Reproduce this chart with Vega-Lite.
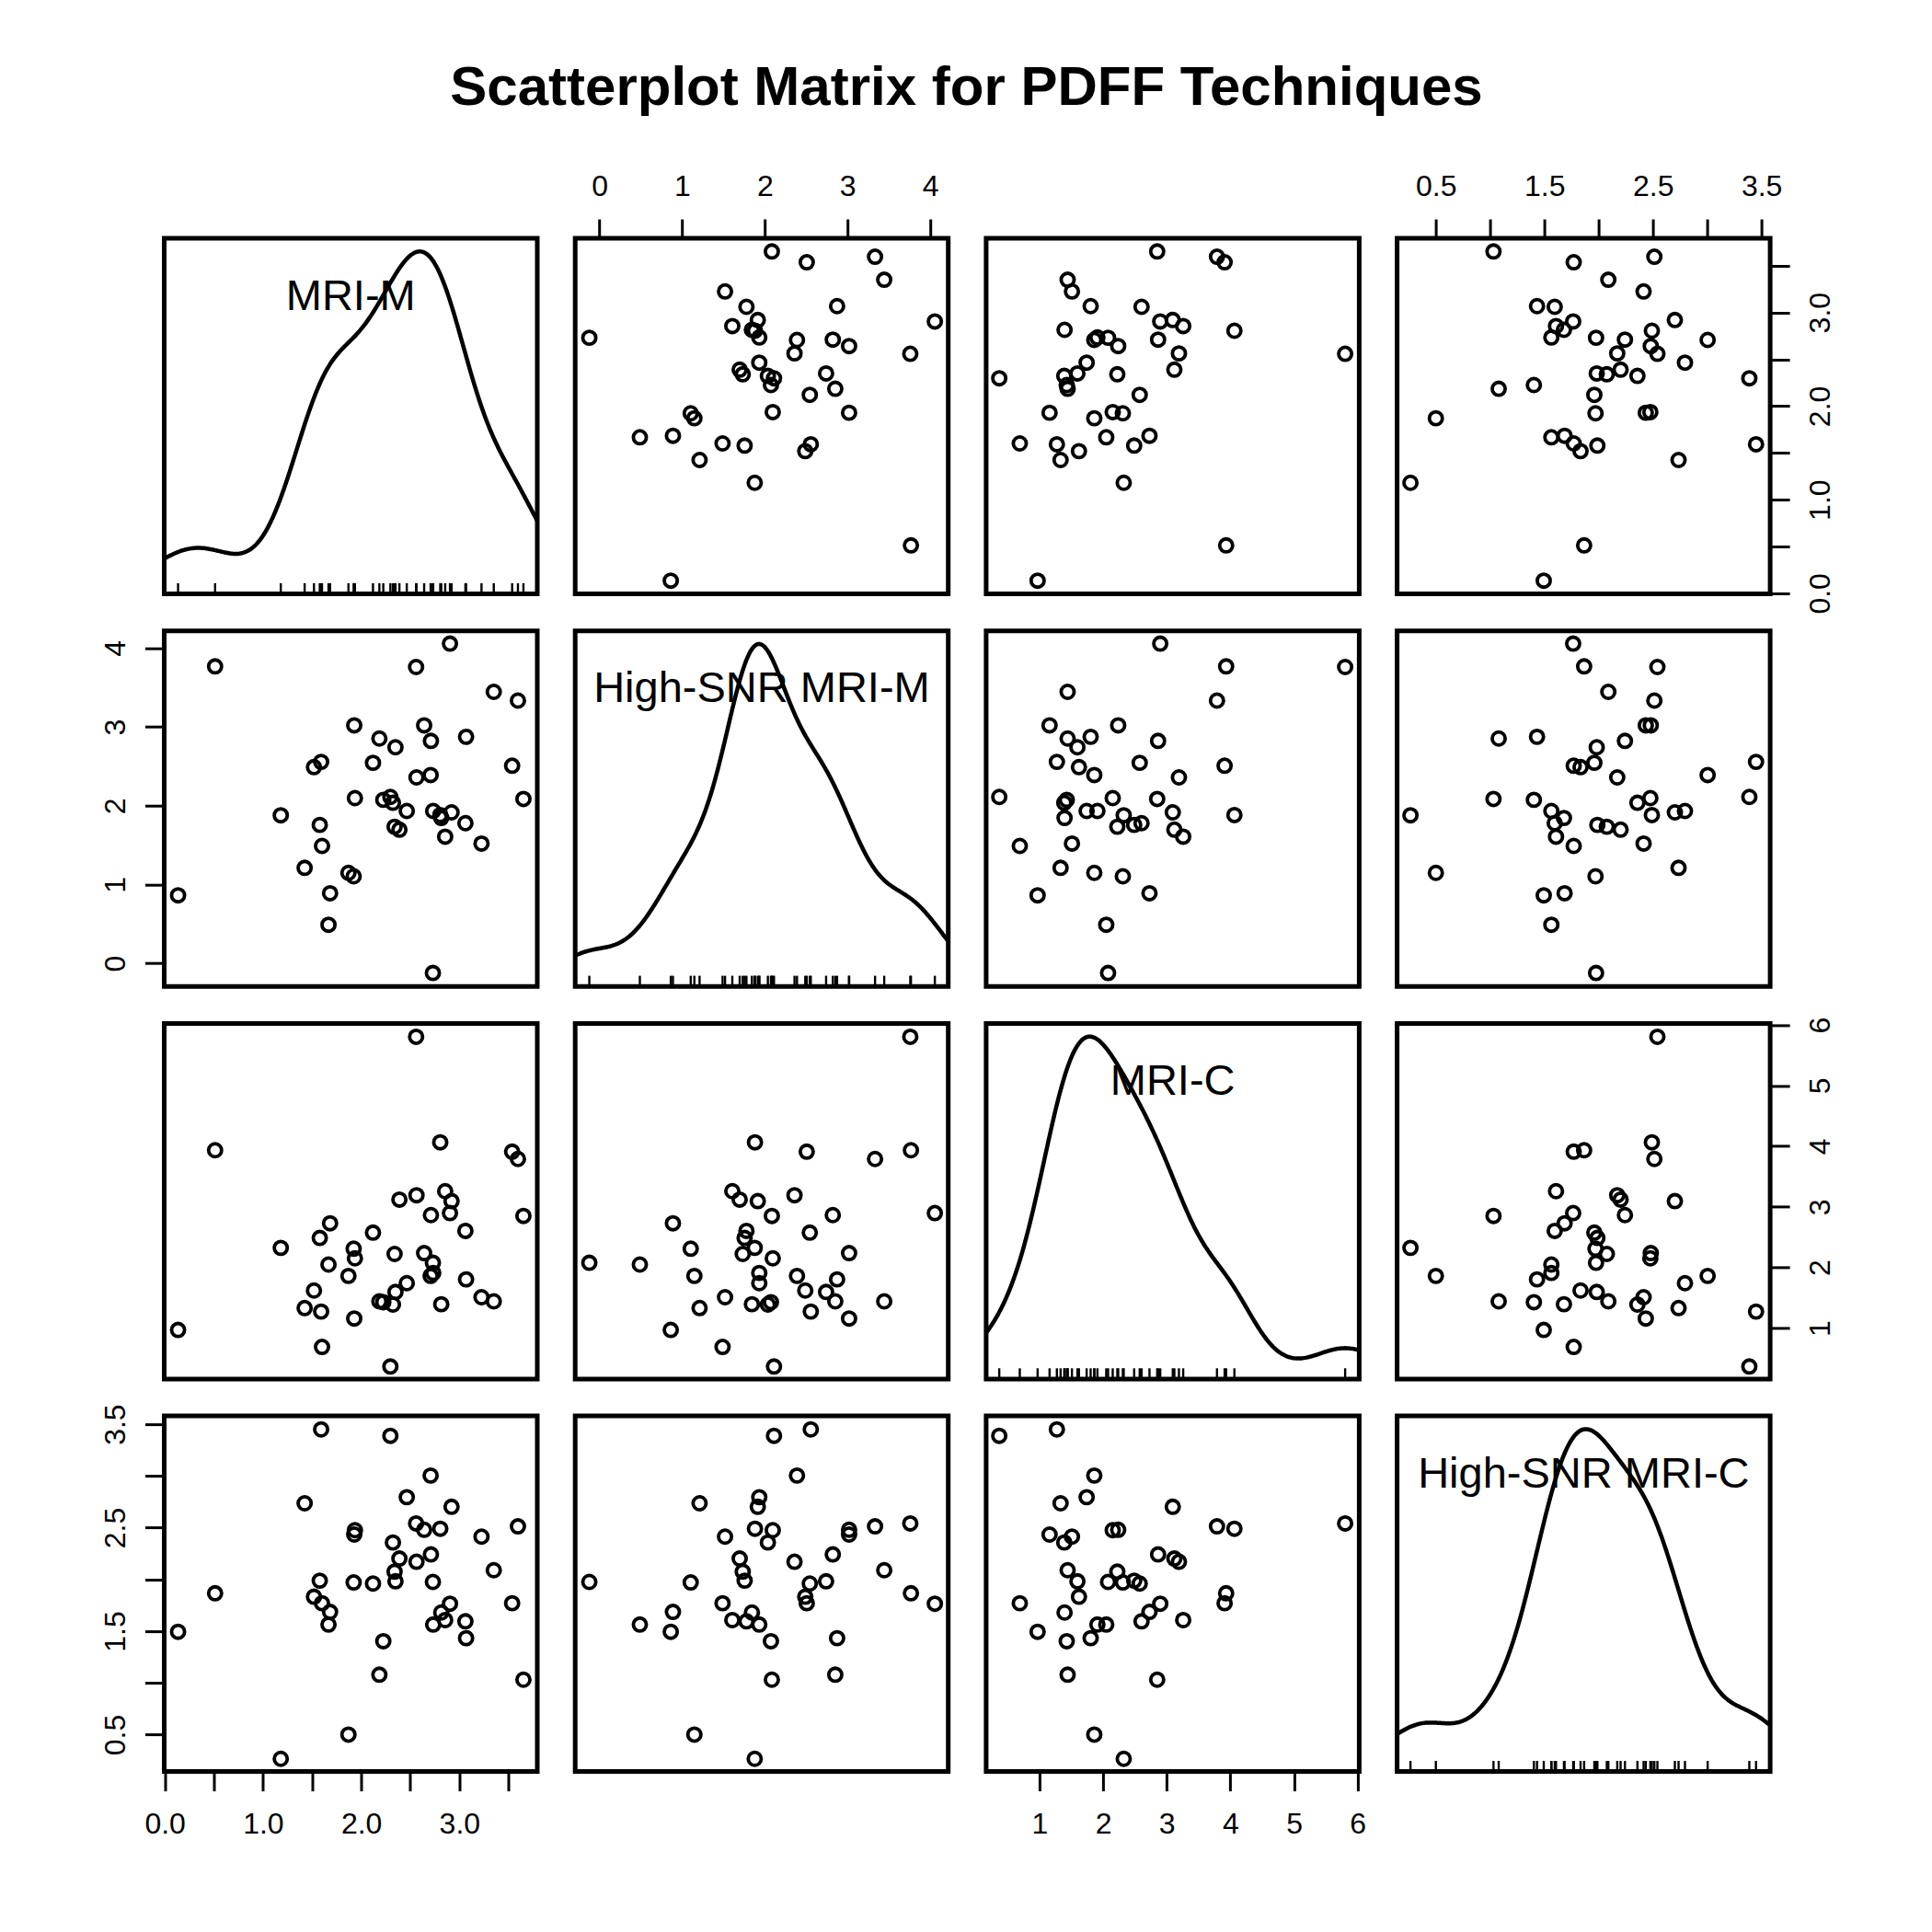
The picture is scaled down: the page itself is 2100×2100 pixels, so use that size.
{
"$schema": "https://vega.github.io/schema/vega-lite/v6.json",
"background": "white",
"padding": {"left": 106.5, "top": 65, "right": 5, "bottom": 5},
"title": {"text": "Scatterplot Matrix for PDFF Techniques", "font": "Liberation Sans", "fontSize": 60, "fontWeight": "bold", "color": "black", "anchor": "middle", "frame": "group", "baseline": "top", "offset": 57, "dx": 872},
"datasets": {"pdff": [
{"MRI_M": 3.652, "HS_M": 2.085, "MRI_C": 2.849, "HS_C": 1.031},
{"MRI_M": 3.596, "HS_M": 3.333, "MRI_C": 3.789, "HS_C": 2.513},
{"MRI_M": 3.537, "HS_M": 2.507, "MRI_C": 3.909, "HS_C": 1.770},
{"MRI_M": 3.350, "HS_M": 3.444, "MRI_C": 1.441, "HS_C": 2.089},
{"MRI_M": 3.225, "HS_M": 1.519, "MRI_C": 1.509, "HS_C": 2.414},
{"MRI_M": 3.068, "HS_M": 2.874, "MRI_C": 1.803, "HS_C": 1.432},
{"MRI_M": 3.061, "HS_M": 1.778, "MRI_C": 2.603, "HS_C": 1.595},
{"MRI_M": 2.904, "HS_M": 4.056, "MRI_C": 2.897, "HS_C": 1.765},
{"MRI_M": 2.920, "HS_M": 1.915, "MRI_C": 3.094, "HS_C": 2.702},
{"MRI_M": 2.855, "HS_M": 1.607, "MRI_C": 3.258, "HS_C": 1.607},
{"MRI_M": 2.730, "HS_M": -0.122, "MRI_C": 2.077, "HS_C": 1.976},
{"MRI_M": 2.710, "HS_M": 2.822, "MRI_C": 2.863, "HS_C": 2.242},
{"MRI_M": 2.707, "HS_M": 2.389, "MRI_C": 1.860, "HS_C": 3.004},
{"MRI_M": 2.815, "HS_M": 1.844, "MRI_C": 1.393, "HS_C": 1.680},
{"MRI_M": 2.805, "HS_M": 1.881, "MRI_C": 4.063, "HS_C": 2.490},
{"MRI_M": 2.733, "HS_M": 1.933, "MRI_C": 1.909, "HS_C": 1.564},
{"MRI_M": 2.641, "HS_M": 3.019, "MRI_C": 2.236, "HS_C": 2.480},
{"MRI_M": 2.559, "HS_M": 3.759, "MRI_C": 5.804, "HS_C": 2.541},
{"MRI_M": 2.563, "HS_M": 2.359, "MRI_C": 3.191, "HS_C": 2.171},
{"MRI_M": 2.464, "HS_M": 1.933, "MRI_C": 1.740, "HS_C": 2.795},
{"MRI_M": 2.389, "HS_M": 1.696, "MRI_C": 3.119, "HS_C": 2.202},
{"MRI_M": 2.349, "HS_M": 2.741, "MRI_C": 1.595, "HS_C": 1.982},
{"MRI_M": 2.340, "HS_M": 1.733, "MRI_C": 2.222, "HS_C": 2.075},
{"MRI_M": 2.323, "HS_M": 2.037, "MRI_C": 1.388, "HS_C": 2.357},
{"MRI_M": 2.297, "HS_M": 2.111, "MRI_C": 0.366, "HS_C": 3.388},
{"MRI_M": 2.225, "HS_M": 2.074, "MRI_C": 1.427, "HS_C": 1.403},
{"MRI_M": 2.185, "HS_M": 2.852, "MRI_C": 1.441, "HS_C": 1.079},
{"MRI_M": 2.120, "HS_M": 2.544, "MRI_C": 2.574, "HS_C": 1.960},
{"MRI_M": 1.936, "HS_M": 2.096, "MRI_C": 2.150, "HS_C": 2.476},
{"MRI_M": 1.929, "HS_M": 3.019, "MRI_C": 1.157, "HS_C": 2.434},
{"MRI_M": 1.923, "HS_M": 1.104, "MRI_C": 2.309, "HS_C": 1.971},
{"MRI_M": 1.870, "HS_M": 1.148, "MRI_C": 1.860, "HS_C": 0.500},
{"MRI_M": 1.683, "HS_M": 0.889, "MRI_C": 2.728, "HS_C": 1.686},
{"MRI_M": 1.667, "HS_M": 0.489, "MRI_C": 2.048, "HS_C": 1.564},
{"MRI_M": 1.601, "HS_M": 1.489, "MRI_C": 0.689, "HS_C": 1.770},
{"MRI_M": 1.592, "HS_M": 2.556, "MRI_C": 1.272, "HS_C": 3.450},
{"MRI_M": 1.578, "HS_M": 1.756, "MRI_C": 2.487, "HS_C": 1.988},
{"MRI_M": 1.519, "HS_M": 2.489, "MRI_C": 1.619, "HS_C": 1.833},
{"MRI_M": 1.424, "HS_M": 1.211, "MRI_C": 1.330, "HS_C": 2.736},
{"MRI_M": 1.181, "HS_M": 1.878, "MRI_C": 2.323, "HS_C": 0.266},
{"MRI_M": 0.512, "HS_M": 3.767, "MRI_C": 3.933, "HS_C": 1.866},
{"MRI_M": 0.135, "HS_M": 0.863, "MRI_C": 0.969, "HS_C": 1.494}
]},
"columns": 4,
"bounds": "flush",
"spacing": {"row": 39.7, "column": 40.7},
"resolve": {"scale": {"x": "independent", "y": "independent"}},
"concat": [
{"width": 405.5, "height": 386.5, "layer": [
 {"data": {"name": "pdff"}, "transform": [{"density": "MRI_M", "bandwidth": 0.2955, "extent": [-0.752, 4.539], "steps": 400, "as": ["value", "density"]}],
  "mark": {"type": "line", "color": "black", "strokeWidth": 4.5, "clip": true},
  "encoding": {"x": {"field": "value", "type": "quantitative", "scale": {"domain": [-0.006, 3.793], "nice": false, "zero": false}, "axis": null},
   "y": {"field": "density", "type": "quantitative", "scale": {"zero": false, "nice": false, "padding": 14.3}, "axis": null}}},
 {"data": {"name": "pdff"}, "mark": {"type": "rule", "color": "black", "strokeWidth": 2.4},
  "encoding": {"x": {"field": "MRI_M", "type": "quantitative", "scale": {"domain": [-0.006, 3.793], "nice": false, "zero": false}, "axis": null},
   "y": {"datum": 0, "scale": {"domain": [0, 33.33], "nice": false, "zero": false}, "axis": null}, "y2": {"datum": 1}}},
 {"data": {"values": [{"label": "MRI-M"}]}, "mark": {"type": "text", "font": "Liberation Sans", "fontSize": 47, "color": "black", "align": "center", "baseline": "middle"},
  "encoding": {"text": {"field": "label"}, "x": {"datum": 1.8935, "scale": {"domain": [-0.006, 3.793], "nice": false, "zero": false}, "axis": null},
   "y": {"datum": 0.835, "scale": {"domain": [0, 1], "nice": false, "zero": false}, "axis": null}}}
 ], "resolve": {"scale": {"y": "independent"}}},
{"width": 405.5, "height": 386.5, "data": {"name": "pdff"},
 "mark": {"type": "point", "shape": "circle", "filled": false, "size": 200, "strokeWidth": 3.8, "color": "black", "opacity": 1},
 "encoding": {"x": {"field": "HS_M", "type": "quantitative", "scale": {"domain": [-0.293, 4.218], "nice": false, "zero": false},
   "axis": {"orient": "top", "values": [0, 1, 2, 3, 4], "format": "d", "labelAngle": 0, "labelAlign": "center", "labelBaseline": "alphabetic", "labelPadding": 26, "title": null}},
  "y": {"field": "MRI_M", "type": "quantitative", "scale": {"domain": [-0.006, 3.793], "nice": false, "zero": false}, "axis": null}}},
{"width": 405.5, "height": 386.5, "data": {"name": "pdff"},
 "mark": {"type": "point", "shape": "circle", "filled": false, "size": 200, "strokeWidth": 3.8, "color": "black", "opacity": 1},
 "encoding": {"x": {"field": "MRI_C", "type": "quantitative", "scale": {"domain": [0.16, 6.025], "nice": false, "zero": false}, "axis": null},
  "y": {"field": "MRI_M", "type": "quantitative", "scale": {"domain": [-0.006, 3.793], "nice": false, "zero": false}, "axis": null}}},
{"width": 405.5, "height": 386.5, "data": {"name": "pdff"},
 "mark": {"type": "point", "shape": "circle", "filled": false, "size": 200, "strokeWidth": 3.8, "color": "black", "opacity": 1},
 "encoding": {"x": {"field": "HS_C", "type": "quantitative", "scale": {"domain": [0.143, 3.58], "nice": false, "zero": false},
   "axis": {"orient": "top", "values": [0.5, 1, 1.5, 2, 2.5, 3, 3.5], "labelExpr": "(datum.value * 2) % 2 == 1 ? format(datum.value, '.1f') : ''", "labelAngle": 0, "labelAlign": "center", "labelBaseline": "alphabetic", "labelPadding": 26, "title": null}},
  "y": {"field": "MRI_M", "type": "quantitative", "scale": {"domain": [-0.006, 3.793], "nice": false, "zero": false},
   "axis": {"orient": "right", "values": [0, 0.5, 1, 1.5, 2, 2.5, 3, 3.5], "labelExpr": "datum.value % 1 == 0 ? format(datum.value, '.1f') : ''", "labelAngle": 270, "labelAlign": "center", "labelBaseline": "middle", "labelPadding": 33.5, "title": null}}}},
{"width": 405.5, "height": 386.5, "data": {"name": "pdff"},
 "mark": {"type": "point", "shape": "circle", "filled": false, "size": 200, "strokeWidth": 3.8, "color": "black", "opacity": 1},
 "encoding": {"x": {"field": "MRI_M", "type": "quantitative", "scale": {"domain": [-0.006, 3.793], "nice": false, "zero": false}, "axis": null},
  "y": {"field": "HS_M", "type": "quantitative", "scale": {"domain": [-0.293, 4.218], "nice": false, "zero": false},
   "axis": {"orient": "left", "values": [0, 1, 2, 3, 4], "format": "d", "labelAngle": 270, "labelAlign": "center", "labelBaseline": "middle", "labelPadding": 32, "title": null}}}},
{"width": 405.5, "height": 386.5, "layer": [
 {"data": {"name": "pdff"}, "transform": [{"density": "HS_M", "bandwidth": 0.3149, "extent": [-1.067, 5.001], "steps": 400, "as": ["value", "density"]}],
  "mark": {"type": "line", "color": "black", "strokeWidth": 4.5, "clip": true},
  "encoding": {"x": {"field": "value", "type": "quantitative", "scale": {"domain": [-0.293, 4.218], "nice": false, "zero": false}, "axis": null},
   "y": {"field": "density", "type": "quantitative", "scale": {"zero": false, "nice": false, "padding": 14.3}, "axis": null}}},
 {"data": {"name": "pdff"}, "mark": {"type": "rule", "color": "black", "strokeWidth": 2.4},
  "encoding": {"x": {"field": "HS_M", "type": "quantitative", "scale": {"domain": [-0.293, 4.218], "nice": false, "zero": false}, "axis": null},
   "y": {"datum": 0, "scale": {"domain": [0, 33.33], "nice": false, "zero": false}, "axis": null}, "y2": {"datum": 1}}},
 {"data": {"values": [{"label": "High-SNR MRI-M"}]}, "mark": {"type": "text", "font": "Liberation Sans", "fontSize": 47, "color": "black", "align": "center", "baseline": "middle"},
  "encoding": {"text": {"field": "label"}, "x": {"datum": 1.9625, "scale": {"domain": [-0.293, 4.218], "nice": false, "zero": false}, "axis": null},
   "y": {"datum": 0.835, "scale": {"domain": [0, 1], "nice": false, "zero": false}, "axis": null}}}
 ], "resolve": {"scale": {"y": "independent"}}},
{"width": 405.5, "height": 386.5, "data": {"name": "pdff"},
 "mark": {"type": "point", "shape": "circle", "filled": false, "size": 200, "strokeWidth": 3.8, "color": "black", "opacity": 1},
 "encoding": {"x": {"field": "MRI_C", "type": "quantitative", "scale": {"domain": [0.16, 6.025], "nice": false, "zero": false}, "axis": null},
  "y": {"field": "HS_M", "type": "quantitative", "scale": {"domain": [-0.293, 4.218], "nice": false, "zero": false}, "axis": null}}},
{"width": 405.5, "height": 386.5, "data": {"name": "pdff"},
 "mark": {"type": "point", "shape": "circle", "filled": false, "size": 200, "strokeWidth": 3.8, "color": "black", "opacity": 1},
 "encoding": {"x": {"field": "HS_C", "type": "quantitative", "scale": {"domain": [0.143, 3.58], "nice": false, "zero": false}, "axis": null},
  "y": {"field": "HS_M", "type": "quantitative", "scale": {"domain": [-0.293, 4.218], "nice": false, "zero": false}, "axis": null}}},
{"width": 405.5, "height": 386.5, "data": {"name": "pdff"},
 "mark": {"type": "point", "shape": "circle", "filled": false, "size": 200, "strokeWidth": 3.8, "color": "black", "opacity": 1},
 "encoding": {"x": {"field": "MRI_M", "type": "quantitative", "scale": {"domain": [-0.006, 3.793], "nice": false, "zero": false}, "axis": null},
  "y": {"field": "MRI_C", "type": "quantitative", "scale": {"domain": [0.16, 6.025], "nice": false, "zero": false}, "axis": null}}},
{"width": 405.5, "height": 386.5, "data": {"name": "pdff"},
 "mark": {"type": "point", "shape": "circle", "filled": false, "size": 200, "strokeWidth": 3.8, "color": "black", "opacity": 1},
 "encoding": {"x": {"field": "HS_M", "type": "quantitative", "scale": {"domain": [-0.293, 4.218], "nice": false, "zero": false}, "axis": null},
  "y": {"field": "MRI_C", "type": "quantitative", "scale": {"domain": [0.16, 6.025], "nice": false, "zero": false}, "axis": null}}},
{"width": 405.5, "height": 386.5, "layer": [
 {"data": {"name": "pdff"}, "transform": [{"density": "MRI_C", "bandwidth": 0.4457, "extent": [-0.971, 7.141], "steps": 400, "as": ["value", "density"]}],
  "mark": {"type": "line", "color": "black", "strokeWidth": 4.5, "clip": true},
  "encoding": {"x": {"field": "value", "type": "quantitative", "scale": {"domain": [0.16, 6.025], "nice": false, "zero": false}, "axis": null},
   "y": {"field": "density", "type": "quantitative", "scale": {"zero": false, "nice": false, "padding": 14.3}, "axis": null}}},
 {"data": {"name": "pdff"}, "mark": {"type": "rule", "color": "black", "strokeWidth": 2.4},
  "encoding": {"x": {"field": "MRI_C", "type": "quantitative", "scale": {"domain": [0.16, 6.025], "nice": false, "zero": false}, "axis": null},
   "y": {"datum": 0, "scale": {"domain": [0, 33.33], "nice": false, "zero": false}, "axis": null}, "y2": {"datum": 1}}},
 {"data": {"values": [{"label": "MRI-C"}]}, "mark": {"type": "text", "font": "Liberation Sans", "fontSize": 47, "color": "black", "align": "center", "baseline": "middle"},
  "encoding": {"text": {"field": "label"}, "x": {"datum": 3.0925, "scale": {"domain": [0.16, 6.025], "nice": false, "zero": false}, "axis": null},
   "y": {"datum": 0.835, "scale": {"domain": [0, 1], "nice": false, "zero": false}, "axis": null}}}
 ], "resolve": {"scale": {"y": "independent"}}},
{"width": 405.5, "height": 386.5, "data": {"name": "pdff"},
 "mark": {"type": "point", "shape": "circle", "filled": false, "size": 200, "strokeWidth": 3.8, "color": "black", "opacity": 1},
 "encoding": {"x": {"field": "HS_C", "type": "quantitative", "scale": {"domain": [0.143, 3.58], "nice": false, "zero": false}, "axis": null},
  "y": {"field": "MRI_C", "type": "quantitative", "scale": {"domain": [0.16, 6.025], "nice": false, "zero": false},
   "axis": {"orient": "right", "values": [1, 2, 3, 4, 5, 6], "format": "d", "labelAngle": 270, "labelAlign": "center", "labelBaseline": "middle", "labelPadding": 33.5, "title": null}}}},
{"width": 405.5, "height": 386.5, "data": {"name": "pdff"},
 "mark": {"type": "point", "shape": "circle", "filled": false, "size": 200, "strokeWidth": 3.8, "color": "black", "opacity": 1},
 "encoding": {"x": {"field": "MRI_M", "type": "quantitative", "scale": {"domain": [-0.006, 3.793], "nice": false, "zero": false},
   "axis": {"orient": "bottom", "values": [0, 0.5, 1, 1.5, 2, 2.5, 3, 3.5], "labelExpr": "datum.value % 1 == 0 ? format(datum.value, '.1f') : ''", "labelAngle": 0, "labelAlign": "center", "labelBaseline": "top", "labelPadding": 21, "title": null}},
  "y": {"field": "HS_C", "type": "quantitative", "scale": {"domain": [0.143, 3.58], "nice": false, "zero": false},
   "axis": {"orient": "left", "values": [0.5, 1, 1.5, 2, 2.5, 3, 3.5], "labelExpr": "(datum.value * 2) % 2 == 1 ? format(datum.value, '.1f') : ''", "labelAngle": 270, "labelAlign": "center", "labelBaseline": "middle", "labelPadding": 32, "title": null}}}},
{"width": 405.5, "height": 386.5, "data": {"name": "pdff"},
 "mark": {"type": "point", "shape": "circle", "filled": false, "size": 200, "strokeWidth": 3.8, "color": "black", "opacity": 1},
 "encoding": {"x": {"field": "HS_M", "type": "quantitative", "scale": {"domain": [-0.293, 4.218], "nice": false, "zero": false}, "axis": null},
  "y": {"field": "HS_C", "type": "quantitative", "scale": {"domain": [0.143, 3.58], "nice": false, "zero": false}, "axis": null}}},
{"width": 405.5, "height": 386.5, "data": {"name": "pdff"},
 "mark": {"type": "point", "shape": "circle", "filled": false, "size": 200, "strokeWidth": 3.8, "color": "black", "opacity": 1},
 "encoding": {"x": {"field": "MRI_C", "type": "quantitative", "scale": {"domain": [0.16, 6.025], "nice": false, "zero": false},
   "axis": {"orient": "bottom", "values": [1, 2, 3, 4, 5, 6], "format": "d", "labelAngle": 0, "labelAlign": "center", "labelBaseline": "top", "labelPadding": 21, "title": null}},
  "y": {"field": "HS_C", "type": "quantitative", "scale": {"domain": [0.143, 3.58], "nice": false, "zero": false}, "axis": null}}},
{"width": 405.5, "height": 386.5, "layer": [
 {"data": {"name": "pdff"}, "transform": [{"density": "HS_C", "bandwidth": 0.2672, "extent": [-0.536, 4.252], "steps": 400, "as": ["value", "density"]}],
  "mark": {"type": "line", "color": "black", "strokeWidth": 4.5, "clip": true},
  "encoding": {"x": {"field": "value", "type": "quantitative", "scale": {"domain": [0.143, 3.58], "nice": false, "zero": false}, "axis": null},
   "y": {"field": "density", "type": "quantitative", "scale": {"zero": false, "nice": false, "padding": 14.3}, "axis": null}}},
 {"data": {"name": "pdff"}, "mark": {"type": "rule", "color": "black", "strokeWidth": 2.4},
  "encoding": {"x": {"field": "HS_C", "type": "quantitative", "scale": {"domain": [0.143, 3.58], "nice": false, "zero": false}, "axis": null},
   "y": {"datum": 0, "scale": {"domain": [0, 33.33], "nice": false, "zero": false}, "axis": null}, "y2": {"datum": 1}}},
 {"data": {"values": [{"label": "High-SNR MRI-C"}]}, "mark": {"type": "text", "font": "Liberation Sans", "fontSize": 47, "color": "black", "align": "center", "baseline": "middle"},
  "encoding": {"text": {"field": "label"}, "x": {"datum": 1.8615, "scale": {"domain": [0.143, 3.58], "nice": false, "zero": false}, "axis": null},
   "y": {"datum": 0.835, "scale": {"domain": [0, 1], "nice": false, "zero": false}, "axis": null}}}
 ], "resolve": {"scale": {"y": "independent"}}}
],
"config": {
 "view": {"stroke": "black", "strokeWidth": 5},
 "axis": {"domain": false, "grid": false, "tickColor": "black", "tickWidth": 3, "tickSize": 21, "labelFont": "Liberation Sans", "labelFontSize": 32, "labelColor": "black", "labelFlush": false, "labelOverlap": false, "labelBound": false}
}
}
